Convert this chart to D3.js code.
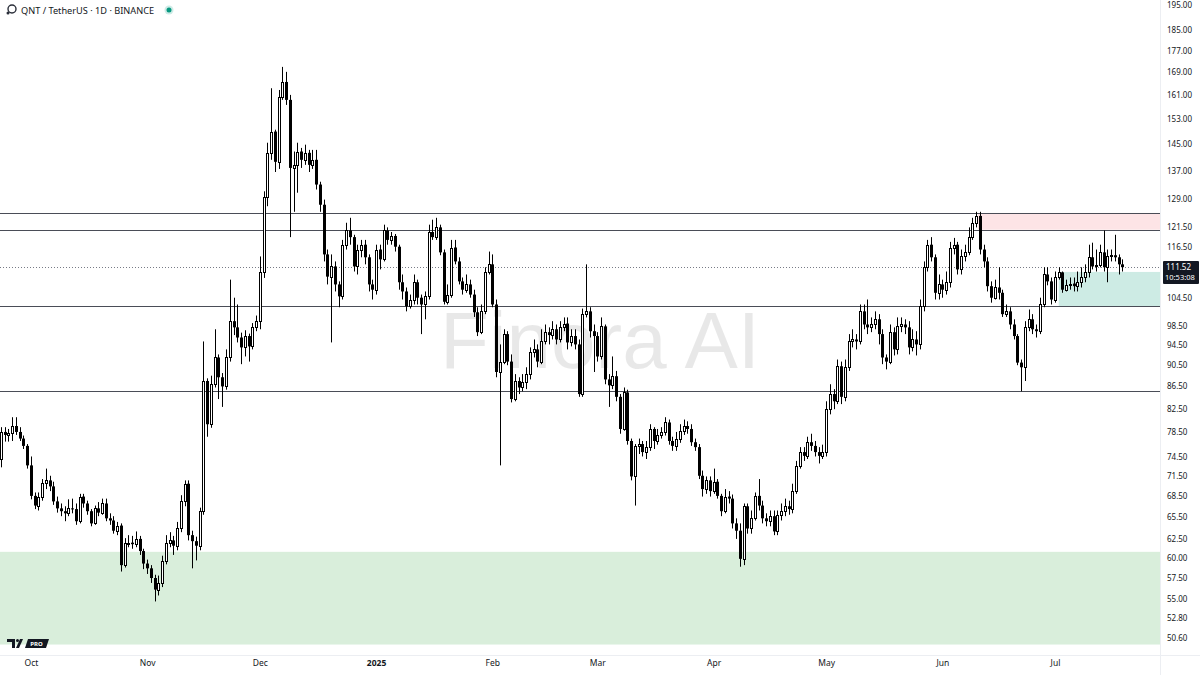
<!DOCTYPE html>
<html><head><meta charset="utf-8">
<script src="https://cdn.jsdelivr.net/npm/d3@7"></script>
<style>html,body{margin:0;padding:0;background:#fff;}svg{display:block;font-family:"Noto Sans","Open Sans",sans-serif;}</style>
</head><body><svg id="c" width="1200" height="675"></svg>
<script>
const title = "QNT / TetherUS · 1D · BINANCE";
const startDate = "2024-09-23";
const firstOpen = 74.1;
const closes = [
78.5,78.0,78.3,79.5,78.5,77.4,76.2,73.1,68.5,67.1,
68.4,70.4,70.8,69.9,67.7,66.7,66.3,66.0,66.7,66.6,
64.9,68.4,67.4,66.3,64.6,66.7,66.1,67.4,65.3,65.0,
63.6,64.3,59.1,61.9,62.0,61.8,62.5,60.9,59.3,58.7,
57.5,56.1,56.9,59.6,62.0,62.3,61.6,63.9,67.7,70.3,
63.0,62.2,61.6,66.3,87.5,79.8,86.9,92.0,88.2,86.5,
92.0,99.4,98.1,96.0,94.0,96.3,94.2,98.1,99.4,110.5,
129.6,142.3,148.9,139.6,160.3,165.5,159.3,137.8,138.7,142.7,
140.2,142.3,138.7,140.2,133.0,127.4,114.6,109.3,111.7,107.5,
104.8,117.0,120.6,118.9,111.7,115.8,117.0,113.9,107.5,106.3,
115.8,113.4,120.6,118.2,119.2,116.5,108.0,105.9,102.6,104.1,
108.0,104.5,103.0,104.8,120.2,118.9,121.4,115.1,103.6,105.2,
116.3,112.9,108.2,106.3,107.5,105.2,101.3,97.1,101.5,110.5,
112.2,103.0,89.2,91.2,96.7,91.2,84.2,87.5,86.3,87.3,
88.8,93.0,93.6,91.2,95.2,97.1,96.5,97.7,95.6,98.1,
98.9,95.0,96.3,94.6,85.1,100.9,101.5,97.3,96.3,92.2,
98.3,87.8,86.7,88.4,84.6,79.0,85.4,77.0,71.4,76.2,
76.5,75.2,76.0,79.0,77.0,78.0,78.5,80.1,77.0,76.2,
77.4,78.7,79.5,79.0,76.8,76.0,71.5,69.5,70.8,69.2,
70.6,68.5,66.3,68.4,68.1,64.6,63.6,59.9,67.0,63.9,
65.3,68.5,67.1,65.3,64.9,65.6,63.5,65.7,66.3,67.0,
66.6,69.2,73.0,75.2,74.6,76.8,76.2,75.2,74.6,75.2,
82.4,85.1,83.8,90.3,84.6,90.1,95.2,95.6,95.2,101.5,
98.7,98.1,98.7,99.8,96.7,92.0,91.2,97.1,93.6,98.3,
98.7,98.1,94.0,95.6,94.6,102.6,111.5,117.0,113.9,105.6,
107.5,106.3,108.0,116.3,117.0,111.0,114.1,115.3,118.9,122.6,
124.4,115.8,112.9,107.1,104.5,106.8,105.6,100.9,101.5,98.7,
96.3,91.0,90.1,98.1,99.8,97.7,97.3,103.0,109.8,108.2,
104.1,109.3,110.3,106.3,107.3,107.7,107.1,108.0,109.1,110.3,
113.9,111.7,112.0,115.1,111.5,114.1,114.4,113.9,112.2,111.52];
const highs = [
79.3,79.3,79.0,81.0,81.0,79.3,77.9,76.5,74.5,69.0,
69.0,71.0,72.6,71.5,70.6,68.4,67.4,67.0,68.0,68.1,
67.4,68.8,68.8,67.8,66.6,67.1,67.6,68.1,68.1,66.0,
65.6,64.8,64.6,62.6,63.0,62.9,63.5,62.9,61.2,59.8,
59.1,57.9,57.8,60.3,63.0,63.4,62.9,64.8,68.6,70.8,
70.8,63.6,62.8,66.8,95.2,88.0,88.5,97.7,92.6,89.0,
93.6,108.6,104.5,103.0,97.0,97.5,96.8,99.0,100.6,114.1,
131.1,145.4,163.3,149.5,162.7,170.9,169.1,161.0,142.7,145.4,
143.8,144.8,143.2,143.2,143.2,133.8,128.8,115.8,114.6,112.9,
108.2,118.2,122.6,123.9,119.5,117.0,118.2,118.2,114.6,108.6,
117.0,117.0,122.1,121.4,120.2,119.7,117.0,109.8,106.8,105.2,
109.8,108.6,105.2,105.9,122.1,123.4,123.9,122.1,115.8,107.5,
118.2,118.2,113.9,109.1,109.8,108.6,106.3,102.4,103.0,111.5,
115.3,114.6,104.1,94.6,97.7,97.3,92.6,88.8,88.2,88.8,
90.1,94.0,95.6,94.6,97.7,98.7,98.1,99.4,98.7,99.4,
100.2,100.2,97.7,97.7,95.6,102.1,112.2,102.4,98.7,97.1,
100.2,98.7,88.8,92.2,89.4,85.1,86.3,85.9,77.4,76.5,
77.4,77.0,77.0,79.8,79.3,79.0,79.3,81.0,80.6,77.7,
78.5,79.8,80.6,80.3,79.8,77.4,76.5,72.3,71.4,71.4,
72.6,71.0,68.8,69.5,69.2,68.7,65.3,64.6,67.4,67.4,
66.4,69.0,71.0,67.8,66.0,66.4,66.4,66.4,67.4,68.1,
67.8,70.3,73.8,76.0,76.0,77.7,78.2,77.0,76.0,76.4,
83.8,86.9,86.0,91.6,91.2,91.6,96.7,97.7,96.7,103.0,
103.0,104.1,100.2,101.5,100.9,97.7,92.6,98.7,98.1,100.2,
100.2,99.8,99.4,97.7,97.3,104.1,112.9,118.2,118.9,114.6,
109.8,108.6,110.5,117.7,118.7,117.7,115.8,117.0,121.4,123.9,
125.5,125.5,117.0,113.9,108.2,108.6,111.5,106.3,103.0,102.4,
99.8,96.7,91.6,99.4,101.9,100.9,98.7,104.5,111.5,111.5,
109.1,110.5,111.5,110.5,108.6,109.1,109.1,110.5,111.5,112.2,
117.0,117.5,115.8,117.0,120.6,115.8,115.8,119.5,114.6,113.4];
const lows = [
72.8,76.9,76.9,77.0,78.0,77.0,75.7,72.6,68.0,66.6,
66.4,67.8,69.5,69.2,67.2,66.1,65.6,64.9,65.6,66.0,
64.4,64.6,66.8,65.8,64.2,64.4,65.6,65.8,64.9,64.4,
63.2,63.0,58.3,58.8,61.4,61.2,61.4,60.4,58.6,58.0,
56.9,54.7,55.4,56.4,59.2,61.4,60.4,61.0,63.4,67.0,
62.3,58.7,59.7,61.0,65.8,77.7,79.2,86.3,84.2,82.8,
85.9,91.2,96.5,95.0,90.7,92.2,91.2,93.6,97.3,97.7,
109.0,127.0,140.2,136.6,137.5,159.3,157.6,118.9,125.5,130.7,
137.8,138.7,136.6,137.5,131.6,125.5,112.9,107.5,95.0,105.9,
102.4,104.1,115.8,117.0,110.5,109.8,113.9,112.2,105.9,104.1,
105.2,111.0,112.9,117.0,117.0,115.3,106.3,104.1,101.5,102.1,
103.0,103.0,96.7,99.8,104.1,118.2,118.2,114.4,103.0,103.0,
104.5,112.2,107.5,105.2,105.6,104.5,100.3,96.3,96.7,100.9,
109.8,102.4,88.2,73.1,90.7,90.5,83.6,83.8,85.1,85.6,
86.0,87.8,92.0,90.1,90.7,94.6,94.6,95.6,94.6,95.0,
97.3,93.6,94.2,93.6,84.6,84.6,100.2,96.0,89.2,91.2,
91.6,86.9,82.8,86.0,83.8,78.2,78.7,76.4,70.8,67.1,
74.9,74.5,74.1,75.4,75.7,76.4,77.4,77.9,76.4,75.4,
75.4,76.7,78.0,78.2,76.2,75.4,71.0,68.4,68.8,68.4,
68.8,68.1,65.6,66.0,67.4,63.9,62.5,58.9,59.1,63.2,
63.2,65.0,66.4,64.6,64.2,64.2,63.0,63.0,65.0,65.6,
65.8,66.0,68.8,72.6,73.8,74.1,75.4,74.5,73.4,74.1,
74.5,81.5,82.4,83.3,83.3,83.8,89.4,94.0,93.6,94.6,
97.7,96.7,97.1,97.7,94.6,90.7,89.7,90.7,92.4,92.6,
97.1,96.7,92.6,93.2,92.4,93.6,101.5,110.5,112.9,104.1,
104.1,104.5,105.2,106.8,114.6,109.8,109.8,112.9,114.4,118.2,
121.4,114.6,111.5,105.9,103.4,104.1,104.1,100.3,100.3,97.7,
95.6,90.5,85.6,87.5,97.3,96.7,96.0,96.7,102.4,107.3,
103.0,103.4,108.6,105.6,105.9,106.3,105.9,105.9,106.8,108.0,
109.1,111.0,110.5,111.5,110.5,108.0,112.9,112.9,109.8,110.5];
const priceTicks = [195,185,177,169,161,153,145,137,129,121.5,116.5,104.5,98.5,94.5,90.5,86.5,82.5,78.5,74.5,71.5,68.5,65.5,62.5,60,57.5,55,52.8,50.6];
const monthTicks = ["2024-10-01","2024-11-01","2024-12-01","2025-01-01","2025-02-01","2025-03-01","2025-04-01","2025-05-01","2025-06-01","2025-07-01"];
const monthLabels = ["Oct","Nov","Dec","2025","Feb","Mar","Apr","May","Jun","Jul"];
const levelLines = [125.2, 120.8, 102.6, 85.6];
const greenZone = [49.9, 60.8];
const pinkZone = {start:"2025-06-10T12:00Z", lo:120.8, hi:125.2};
const tealZone = {start:"2025-07-02T00:00Z", lo:102.6, hi:110.4};
const lastPrice = 111.52;
const countdown = "10:53:08";
const watermark = "Finora AI";

const W = 1160, H = 655;
const svg = d3.select("#c");
const x = d3.scaleUtc().domain([new Date("2024-09-22T18:00Z"), new Date("2025-07-29T00:00Z")]).range([0, W]);
const y = d3.scaleLog().domain([50.6, 195]).range([638, 5]);
const day0 = new Date(startDate + "T00:00Z");
const data = closes.map((c,i)=>({
  date: d3.utcDay.offset(day0, i),
  o: i===0 ? firstOpen : closes[i-1], c, h: highs[i], l: lows[i]
}));

const plot = svg.append("g");
plot.append("defs").append("clipPath").attr("id","clip").append("rect").attr("width",W).attr("height",H);
const g = plot.append("g").attr("clip-path","url(#clip)");

// zones
g.append("rect").attr("x",0).attr("width",W).attr("y",y(greenZone[1])).attr("height",y(greenZone[0])-y(greenZone[1])).attr("fill","#d9eedb");
g.append("rect").attr("x",x(new Date(pinkZone.start))).attr("width",W-x(new Date(pinkZone.start))).attr("y",y(pinkZone.hi)).attr("height",y(pinkZone.lo)-y(pinkZone.hi)).attr("fill","#fde4e6");
g.append("rect").attr("x",x(new Date(tealZone.start))).attr("width",W-x(new Date(tealZone.start))).attr("y",y(tealZone.hi)).attr("height",y(tealZone.lo)-y(tealZone.hi)).attr("fill","#cdebe4");

// watermark
g.append("text").attr("x",600).attr("y",368).attr("text-anchor","middle").attr("font-family","Liberation Sans, Arial, sans-serif").attr("font-size",80).attr("fill","#000").attr("fill-opacity",0.09).text(watermark);

// level lines
g.selectAll(".lvl").data(levelLines).join("line").attr("x1",0).attr("x2",W)
  .attr("y1",d=>Math.round(y(d))+0.5).attr("y2",d=>Math.round(y(d))+0.5).attr("stroke","#4a4d57").attr("stroke-width",1);
// last price dotted line
g.append("line").attr("x1",0).attr("x2",W).attr("y1",Math.round(y(lastPrice))+0.5).attr("y2",Math.round(y(lastPrice))+0.5)
  .attr("stroke","#787b86").attr("stroke-width",1).attr("stroke-dasharray","1,2");

// candles
const cg = g.append("g");
data.forEach(d=>{
  const cx = Math.round(x(d.date));
  cg.append("line").attr("x1",cx+0.5).attr("x2",cx+0.5).attr("y1",y(d.h)).attr("y2",y(d.l)).attr("stroke","#000").attr("stroke-width",1);
  const top = y(Math.max(d.o,d.c)), bot = y(Math.min(d.o,d.c));
  if (d.c >= d.o) {
    cg.append("rect").attr("x",cx-0.5).attr("width",2).attr("y",Math.round(top)+0.5).attr("height",Math.max(1,Math.round(bot)-Math.round(top)))
      .attr("fill","#fff").attr("stroke","#000").attr("stroke-width",1);
  } else {
    cg.append("rect").attr("x",cx-1).attr("width",3).attr("y",top).attr("height",Math.max(1,bot-top)).attr("fill","#000");
  }
});

// separators
svg.append("line").attr("x1",W+0.5).attr("x2",W+0.5).attr("y1",0).attr("y2",675).attr("stroke","#eceef2");
svg.append("line").attr("x1",0).attr("x2",1200).attr("y1",H+0.5).attr("y2",H+0.5).attr("stroke","#eceef2");

// y axis
const ya = svg.append("g").attr("transform",`translate(${W+4},0)`)
  .call(d3.axisRight(y).tickValues(priceTicks).tickSize(0).tickPadding(3).tickFormat(d3.format(".2f")));
ya.select(".domain").remove();
ya.selectAll("text").attr("font-size",8).attr("fill","#131722").attr("font-family","Noto Sans, Open Sans, sans-serif");

// x axis
const xa = svg.append("g").attr("transform",`translate(0,${H})`)
  .call(d3.axisBottom(x).tickValues(monthTicks.map(s=>new Date(s+"T00:00Z"))).tickSize(0).tickPadding(5).tickFormat((d,i)=>monthLabels[i]));
xa.select(".domain").remove();
xa.selectAll("text").attr("font-size",8.5).attr("fill","#131722").attr("font-family","Noto Sans, Open Sans, sans-serif")
  .attr("font-weight",(d,i)=>monthLabels[i]==="2025"?"bold":"normal");

// last price label
const ly = Math.round(y(lastPrice));
svg.append("rect").attr("x",1163).attr("y",ly-6).attr("width",36).attr("height",23).attr("rx",1).attr("fill","#131722");
svg.append("text").attr("x",1166).attr("y",ly+3).attr("font-size",8).attr("fill","#fff").text(d3.format(".2f")(lastPrice));
svg.append("text").attr("x",1165).attr("y",ly+13).attr("font-size",7.5).attr("fill","#fff").text(countdown);

// title
svg.append("circle").attr("cx",12).attr("cy",9).attr("r",4).attr("fill","none").attr("stroke","#2a2e39").attr("stroke-width",1.4);
svg.append("circle").attr("cx",8).attr("cy",13).attr("r",1.5).attr("fill","#2a2e39");
svg.append("text").attr("x",21).attr("y",14).attr("font-size",9.2).attr("fill","#131722").text(title);
svg.append("circle").attr("cx",169).attr("cy",10).attr("r",4.5).attr("fill","#089981").attr("fill-opacity",0.2);
svg.append("circle").attr("cx",169).attr("cy",10).attr("r",2.5).attr("fill","#089981");

// TV logo
const tv = svg.append("g").attr("transform","translate(7,639)");
tv.append("path").attr("d","M0,0 H8 V9 H5 V3 H0 Z").attr("fill","#131722");
tv.append("circle").attr("cx",10.5).attr("cy",1.5).attr("r",1.5).attr("fill","#131722");
tv.append("path").attr("d","M13,0 H16 L12,9 H9 Z").attr("fill","#131722");
tv.append("path").attr("d","M21,0 H42 L39,9 H18 Z").attr("fill","#131722");
tv.append("text").attr("x",29.5).attr("y",7).attr("text-anchor","middle").attr("font-size",6).attr("font-weight","bold").attr("fill","#fff").text("PRO");
</script></body></html>
